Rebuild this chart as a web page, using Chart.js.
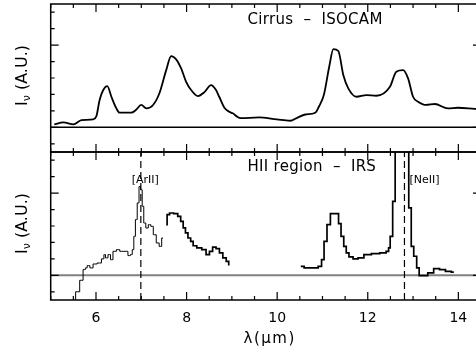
<!DOCTYPE html>
<html>
<head>
<meta charset="utf-8">
<script src="https://cdn.jsdelivr.net/npm/chart.js@4.4.1/dist/chart.umd.min.js"></script>
<style>
html, body { margin:0; padding:0; background:#fff; overflow:hidden; width:476px; height:352px; }
#topChart { position:absolute; left:0; top:0; }
#botChart { position:absolute; left:0; top:148px; }
</style>
</head>
<body>
<canvas id="topChart" width="490" height="160"></canvas>
<canvas id="botChart" width="490" height="204"></canvas>
<script>
// axis ranges (wavelength in microns, intensity in arbitrary units)
var xMin = 5, xMax = 14.5;
var yMin = -1.5, yMax = 7.5;
var xTickLabels = [6, 8, 10, 12, 14];

// Cirrus - ISOCAM spectrum
var cirrusWave = [5.08, 5.28, 5.5, 5.68, 5.94, 6.01, 6.08, 6.16, 6.25, 6.34, 6.45, 6.52, 6.78, 6.88,
  7.0, 7.11, 7.26, 7.4, 7.55, 7.66, 7.77, 7.88, 7.99, 8.1, 8.25, 8.4, 8.54, 8.65, 8.72, 8.84, 8.94,
  9.02, 9.12, 9.19, 9.6, 9.94, 10.15, 10.29, 10.44, 10.62, 10.84, 10.92, 11.03, 11.15, 11.24, 11.35,
  11.46, 11.57, 11.75, 11.97, 12.19, 12.49, 12.63, 12.78, 12.89, 13.0, 13.11, 13.29, 13.48, 13.77,
  13.99, 14.36, 14.5];
var cirrusFlux = [0.18, 0.3, 0.18, 0.44, 0.49, 0.69, 1.66, 2.27, 2.51, 1.86, 1.15, 0.89, 0.89, 1.05,
  1.36, 1.15, 1.36, 2.07, 3.48, 4.33, 4.13, 3.59, 2.77, 2.27, 1.9, 2.16, 2.57, 2.27, 1.86, 1.17, 0.95,
  0.85, 0.64, 0.56, 0.6, 0.5, 0.44, 0.4, 0.58, 0.78, 0.89, 1.25, 1.96, 3.7, 4.76, 4.64,
  3.18, 2.37, 1.86, 1.96, 1.92, 2.47, 3.38, 3.48, 2.98, 1.86, 1.56, 1.36, 1.42, 1.15,
  1.19, 1.12, 1.1];

// HII region - IRS spectrum, short-wavelength piece
var irsWaveA = [5.5, 5.6, 5.68, 5.75, 5.78, 5.83, 5.9, 5.97, 6.08, 6.16, 6.19, 6.23, 6.3, 6.34, 6.41,
  6.49, 6.56, 6.67, 6.74, 6.78, 6.82, 6.85, 6.89, 6.93, 6.97, 7.0, 7.04, 7.07, 7.13, 7.18, 7.24, 7.29,
  7.37, 7.42, 7.48];
var irsFluxA = [-2.2, -1.0, -0.3, 0.35, 0.45, 0.59, 0.45, 0.69, 0.75, 1.0, 1.26, 1.06, 1.26, 0.95, 1.46,
  1.56, 1.46, 1.46, 1.2, 1.26, 1.56, 2.37, 3.39, 4.4, 5.4, 5.2, 4.2, 3.18, 2.88, 3.08, 2.98, 2.47,
  1.97, 1.76, 2.27];

// HII region - IRS spectrum, 7.5-9 micron piece
var irsWaveB = [7.55, 7.59, 7.66, 7.77, 7.84, 7.9, 7.95, 8.0, 8.06, 8.12, 8.17, 8.28, 8.39, 8.47, 8.54,
  8.61, 8.69, 8.76, 8.84, 8.91, 8.95];
var irsFluxB = [3.08, 3.69, 3.79, 3.75, 3.59, 3.28, 2.88, 2.58, 2.27, 2.07, 1.8, 1.67, 1.56, 1.26, 1.46,
  1.72, 1.62, 1.36, 1.06, 0.85, 0.65];

// HII region - IRS spectrum, long-wavelength piece
var irsWaveC = [10.52, 10.67, 10.85, 10.96, 11.0, 11.07, 11.13, 11.22, 11.33, 11.38, 11.44, 11.5, 11.55,
  11.62, 11.73, 11.84, 11.99, 12.17, 12.36, 12.45, 12.47, 12.52, 12.58, 12.63, 12.75, 12.87, 12.94,
  12.98, 13.05, 13.11, 13.16, 13.27, 13.38, 13.53, 13.64, 13.79, 13.9];
var irsFluxC = [0.55, 0.45, 0.45, 0.55, 0.95, 2.07, 3.08, 3.75, 3.75, 3.14, 2.37, 1.76, 1.36,
  1.12, 1.0, 1.06, 1.26, 1.32, 1.36, 1.46, 1.67, 2.37, 4.5, 9.0, 14.0, 11.0, 4.1,
  1.76, 1.16, 0.45, -0.02, -0.02, 0.15, 0.41, 0.35, 0.24, 0.2];

// fine-structure line markers
var lineNames = ['[ArII]', '[NeII]'];
var lineWave = [6.99, 12.81];

function pts(xs, ys) {
  return xs.map(function (x, i) { return { x: x, y: ys[i] }; });
}

var font = "'DejaVu Sans', sans-serif";

// frame with inward ticks, panel title and y label
var framePlugin = {
  id: 'frame',
  afterDatasetsDraw: function (chart, args, opts) {
    var ctx = chart.ctx, a = chart.chartArea;
    var xs = chart.scales.x, ys = chart.scales.y;
    ctx.save();
    ctx.strokeStyle = '#000';
    ctx.lineWidth = 1.5;
    ctx.strokeRect(a.left, a.top, a.right - a.left, a.bottom - a.top);
    ctx.lineWidth = 1.2;
    ctx.beginPath();
    for (var v = xMin; v <= xMax + 1e-9; v += 0.5) {
      var px = xs.getPixelForValue(v);
      var len = (v % 2 === 0) ? 8 : 4;
      ctx.moveTo(px, a.top); ctx.lineTo(px, a.top + len);
      ctx.moveTo(px, a.bottom); ctx.lineTo(px, a.bottom - len);
    }
    for (var w = -1; w <= 7; w++) {
      var py = ys.getPixelForValue(w);
      var l = (w % 5 === 0) ? 8 : 4;
      ctx.moveTo(a.left, py); ctx.lineTo(a.left + l, py);
      ctx.moveTo(a.right, py); ctx.lineTo(a.right - l, py);
    }
    ctx.stroke();

    // panel title
    ctx.fillStyle = '#000';
    ctx.font = '15px ' + font;
    ctx.letterSpacing = '0.3px';
    ctx.textBaseline = 'alphabetic';
    ctx.textAlign = 'left';
    ctx.fillText(opts.title, 247.5, a.top + opts.titleDy);
    ctx.letterSpacing = '0px';

    // y label  I_nu (A.U.)
    var cy = (a.top + a.bottom) / 2 - 2.5;
    ctx.translate(26.5, cy);
    ctx.rotate(-Math.PI / 2);
    ctx.font = '16px ' + font;
    var wI = ctx.measureText('I').width;
    var wRest = ctx.measureText(' (A.U.)').width;
    ctx.font = '11px ' + font;
    var wNu = ctx.measureText('\u03bd').width;
    var x0 = -(wI + wNu + wRest) / 2;
    ctx.font = '16px ' + font;
    ctx.fillText('I', x0, 0);
    ctx.font = '11px ' + font;
    ctx.fillText('\u03bd', x0 + wI, 3);
    ctx.font = '16px ' + font;
    ctx.fillText(' (A.U.)', x0 + wI + wNu, 0);
    ctx.restore();
  }
};

// names of the emission lines next to their markers, and the x title
var lineLabelPlugin = {
  id: 'lineLabels',
  afterDatasetsDraw: function (chart, args, opts) {
    if (!opts.show) return;
    var ctx = chart.ctx, xs = chart.scales.x;
    ctx.save();
    ctx.font = '11px ' + font;
    ctx.fillStyle = '#000';
    ctx.textBaseline = 'middle';
    ctx.textAlign = 'center';
    ctx.fillText(lineNames[0], xs.getPixelForValue(lineWave[0]) + 4.5, 180.5 - 148);
    ctx.textAlign = 'left';
    ctx.fillText(lineNames[1], xs.getPixelForValue(lineWave[1]) + 5, 180 - 148);
    ctx.font = '15px ' + font;
    ctx.letterSpacing = '1.5px';
    ctx.textAlign = 'left';
    ctx.textBaseline = 'alphabetic';
    ctx.fillText('\u03bb(\u03bcm)', 243.5, 343 - 148);
    ctx.restore();
  }
};

function zeroLine(color, width) {
  return {
    data: [{ x: xMin, y: 0 }, { x: xMax, y: 0 }],
    borderColor: color, borderWidth: width, pointRadius: 0, order: 5
  };
}

function markerLine(x) {
  return {
    data: [{ x: x, y: yMin }, { x: x, y: yMax }],
    borderColor: '#000', borderWidth: 1.2, borderDash: [7, 4], pointRadius: 0, order: 4
  };
}

function scales(showX) {
  return {
    x: {
      type: 'linear', min: xMin, max: xMax, display: showX,
      grid: { display: false, drawTicks: false },
      border: { display: false },
      afterBuildTicks: function (axis) {
        axis.ticks = xTickLabels.map(function (v) { return { value: v }; });
      },
      afterFit: function (axis) { axis.height = showX ? 52 : 0; },
      ticks: { color: '#000', padding: 10, maxRotation: 0, font: { family: font, size: 14 } }
    },
    y: { type: 'linear', min: yMin, max: yMax, display: false }
  };
}

Chart.register(framePlugin, lineLabelPlugin);

new Chart(document.getElementById('topChart'), {
  type: 'line',
  data: {
    datasets: [
      zeroLine('#000', 1.5),
      {
        data: pts(cirrusWave, cirrusFlux),
        borderColor: '#000', borderWidth: 1.8, pointRadius: 0,
        cubicInterpolationMode: 'monotone', order: 1
      }
    ]
  },
  options: {
    responsive: false, animation: false,
    layout: { padding: { left: 50.7, right: 9, top: 4, bottom: 8 } },
    scales: scales(false),
    plugins: {
      legend: { display: false }, tooltip: { enabled: false },
      frame: { title: 'Cirrus  \u2013  ISOCAM', titleDy: 19.5 },
      lineLabels: { show: false }
    }
  }
});

new Chart(document.getElementById('botChart'), {
  type: 'line',
  data: {
    datasets: [
      zeroLine('#808080', 2),
      markerLine(lineWave[0]),
      markerLine(lineWave[1]),
      { data: pts(irsWaveA, irsFluxA), borderColor: '#000', borderWidth: 1, pointRadius: 0, stepped: 'middle', order: 1 },
      { data: pts(irsWaveB, irsFluxB), borderColor: '#000', borderWidth: 1.7, pointRadius: 0, stepped: 'middle', order: 1 },
      { data: pts(irsWaveC, irsFluxC), borderColor: '#000', borderWidth: 1.7, pointRadius: 0, stepped: 'middle', order: 1 }
    ]
  },
  options: {
    responsive: false, animation: false,
    layout: { padding: { left: 50.7, right: 9, top: 4, bottom: 0 } },
    scales: scales(true),
    plugins: {
      legend: { display: false }, tooltip: { enabled: false },
      frame: { title: 'HII region  \u2013  IRS', titleDy: 19 },
      lineLabels: { show: true }
    }
  }
});
</script>
</body>
</html>
